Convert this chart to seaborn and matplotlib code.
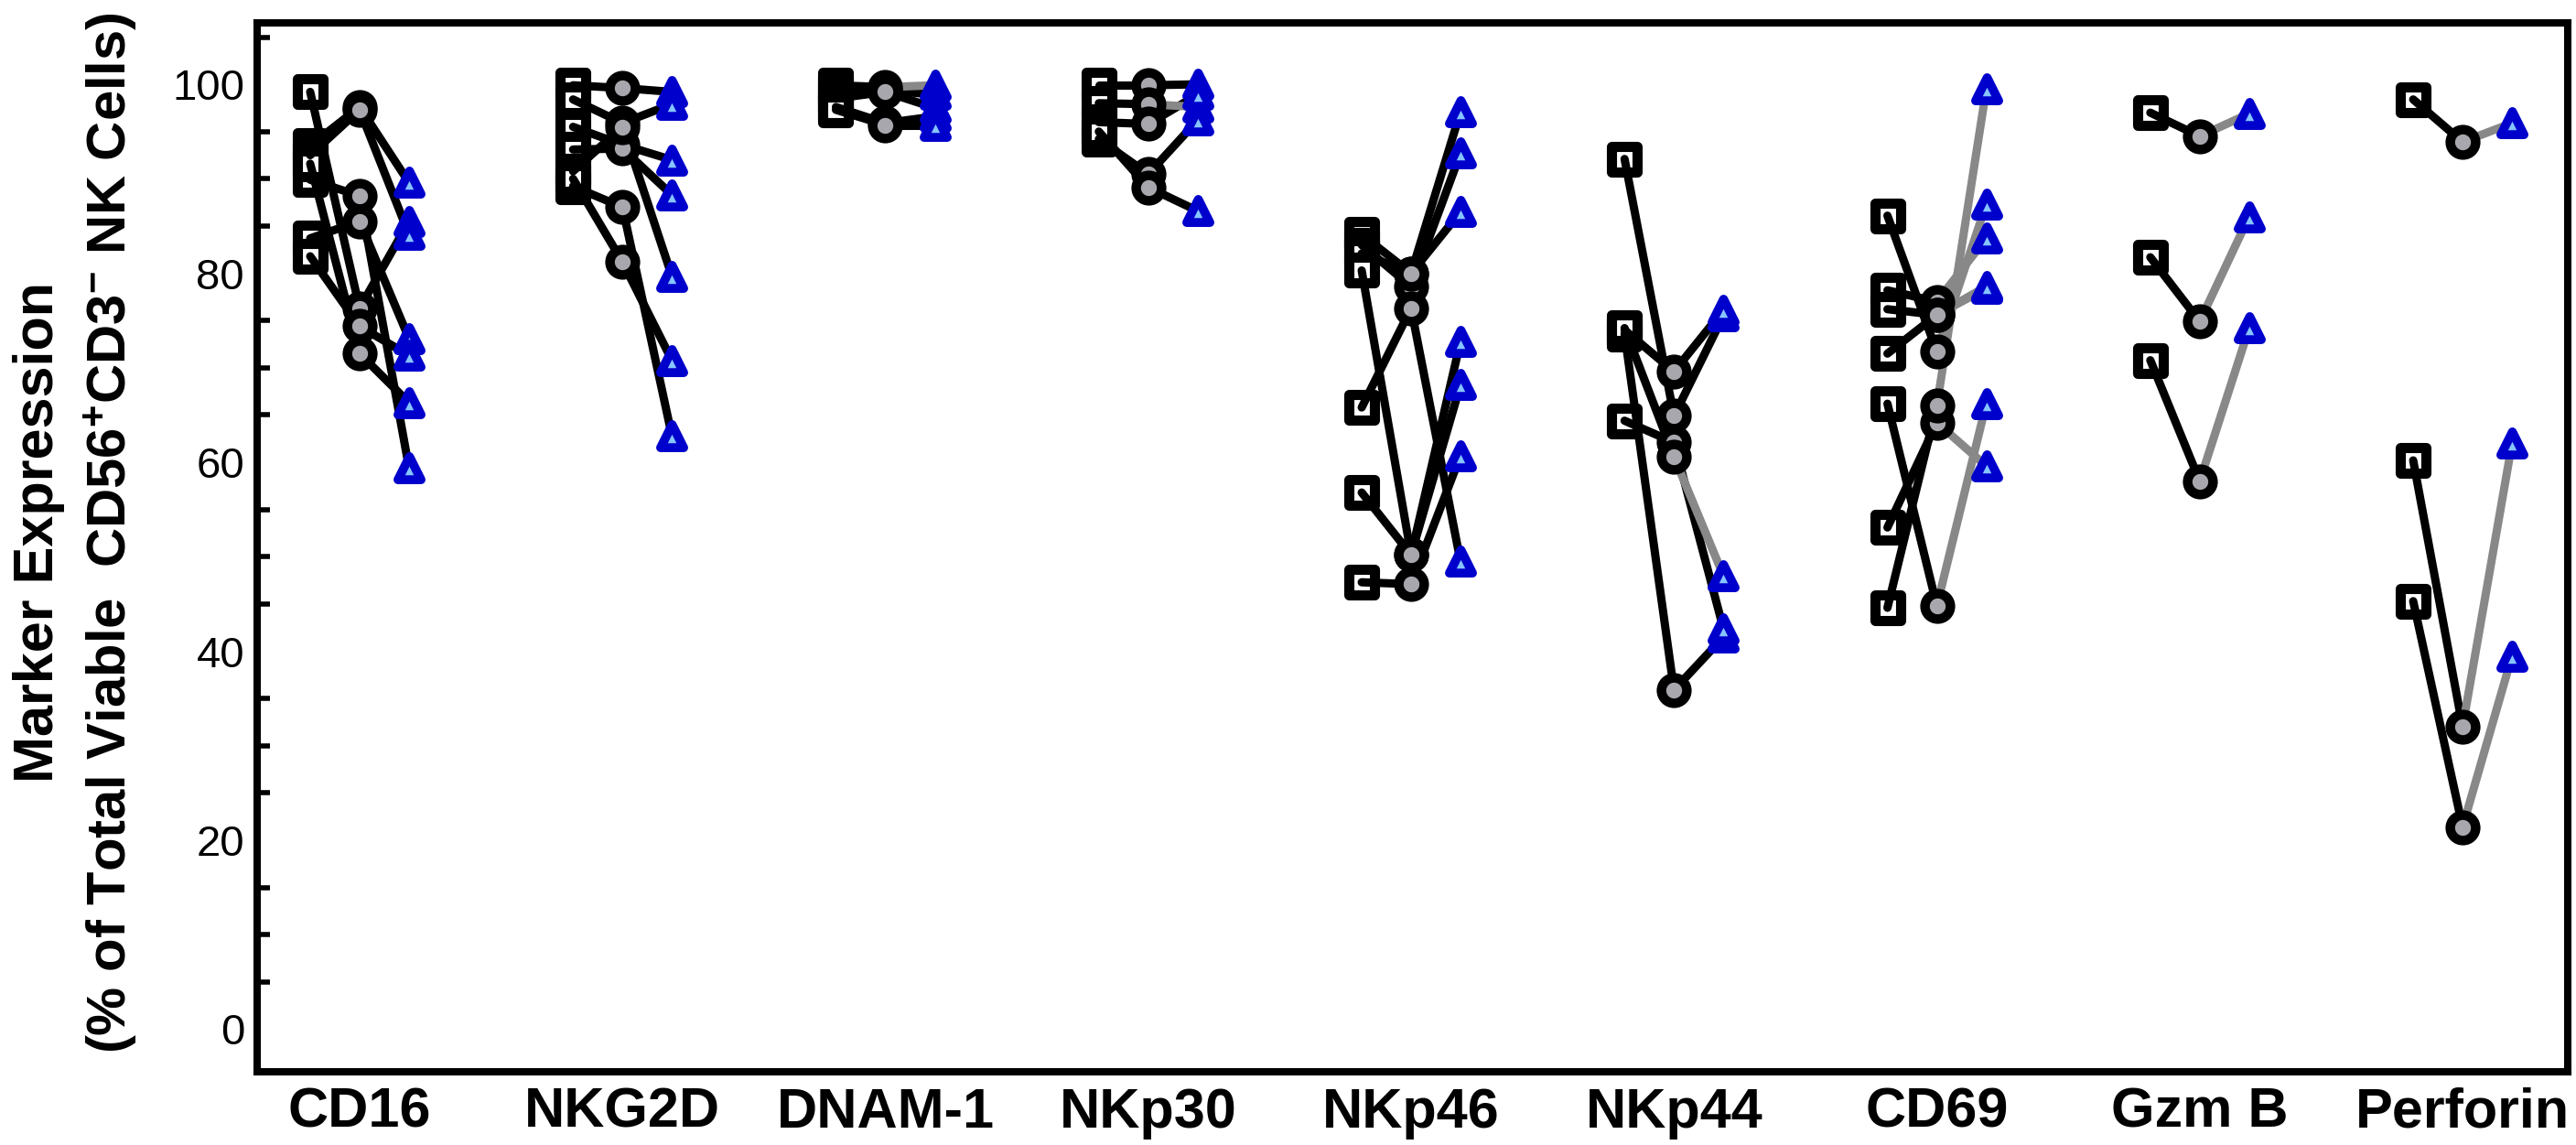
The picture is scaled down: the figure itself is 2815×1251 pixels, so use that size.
import numpy as np
import pandas as pd
import matplotlib
matplotlib.use("Agg")
import matplotlib.pyplot as plt
import seaborn as sns
from matplotlib.ticker import MultipleLocator

# marker panels along the x axis
groups = ["CD16", "NKG2D", "DNAM-1", "NKp30", "NKp46", "NKp44", "CD69", "Gzm B", "Perforin"]

# one row per donor: (square, circle, triangle) in % of NK cells
cd16 = [(99.2, 76.3, 85.5), (93.5, 97.6, 89.6), (92.5, 97.3, 84.1), (89.9, 88.2, 59.4),
        (83.7, 85.5, 73.1), (81.8, 74.4, 71.3), (91.6, 71.5, 66.3)]
nkg2d = [(99.9, 99.6, 99.2), (98.4, 95.9, 97.9), (95.5, 93.6, 92.0), (93.1, 93.2, 88.3),
         (90.8, 95.5, 79.7), (89.2, 87.0, 62.8), (90.0, 81.2, 70.8)]
dnam1 = [(99.9, 99.7, 99.9), (99.5, 99.4, 98.9), (98.5, 99.2, 97.5), (97.6, 95.9, 96.6),
         (97.3, 95.7, 95.7)]
nkp30 = [(99.9, 99.9, 100.0), (98.0, 97.9, 97.6), (96.0, 95.8, 98.9), (94.2, 90.5, 96.2),
         (95.0, 89.1, 86.6)]
nkp46 = [(84.1, 80.0, 97.1), (83.0, 78.6, 92.7), (82.1, 80.0, 86.5), (80.3, 50.2, 72.8),
         (65.8, 76.3, 49.5), (56.8, 50.2, 68.2), (47.3, 47.1, 60.7)]
nkp44 = [(92.1, 64.9, 75.5), (74.0, 69.6, 76.1), (73.6, 35.9, 41.5), (64.4, 62.1, 42.4),
         (74.2, 60.6, 48.0)]
cd69 = [(86.1, 71.7, 87.3), (78.2, 77.0, 83.7), (76.2, 75.6, 78.4), (71.5, 75.6, 78.6),
        (66.2, 44.8, 66.2), (53.1, 64.2, 59.6), (44.6, 66.0, 99.5)]
gzmb = [(97.0, 94.5, 96.9), (81.7, 74.9, 86.0), (70.8, 58.0, 74.2)]
perforin = [(98.4, 93.9, 95.9), (60.2, 32.0, 62.0), (45.3, 21.4, 39.5)]

# donors whose circle -> triangle link is drawn grey
grey_legs = {"DNAM-1": [0], "NKp30": [1], "NKp44": [4],
             "CD69": [0, 1, 2, 3, 4, 5, 6], "Gzm B": [0, 1, 2], "Perforin": [0, 1, 2]}

panel_data = [cd16, nkg2d, dnam1, nkp30, nkp46, nkp44, cd69, gzmb, perforin]

# long table
rows = []
offsets = [-0.188, 0.0, 0.188]
for gi, (name, donors) in enumerate(zip(groups, panel_data)):
    for di, vals in enumerate(donors):
        for st, v in enumerate(vals):
            rows.append({"group": name, "donor": di, "stage": st,
                         "x": gi + offsets[st], "value": v})
df = pd.DataFrame(rows)
df["uid"] = df["group"] + "_" + df["donor"].astype(str)

seg1 = df[df["stage"] < 2].copy()
seg2 = df[df["stage"] > 0].copy()
seg2["tone"] = [("g" if d in grey_legs.get(g, []) else "k")
                for g, d in zip(seg2["group"], seg2["donor"])]

sns.set_style("white")
plt.rcParams["font.family"] = ["Liberation Sans", "DejaVu Sans"]
plt.rcParams["mathtext.fontset"] = "custom"
plt.rcParams["mathtext.bf"] = "Liberation Sans:bold"
plt.rcParams["mathtext.rm"] = "Liberation Sans:bold"
plt.rcParams["mathtext.default"] = "bf"
for k in ["text.color", "axes.labelcolor", "xtick.color", "ytick.color"]:
    plt.rcParams[k] = "black"

fig = plt.figure(figsize=(28.15, 12.51), dpi=100)
ax = fig.add_axes([0.0998, 0.064, 0.897, 0.916])

lw = 6.5
# squares first, lines drawn over them
sns.scatterplot(data=df[df["stage"] == 0], x="x", y="value", marker="s", s=380,
                color="white", edgecolor="black", linewidth=8, zorder=2, ax=ax, legend=False)
sns.lineplot(data=seg1, x="x", y="value", units="uid", estimator=None, color="black",
             lw=lw, zorder=3, ax=ax, legend=False)
sns.lineplot(data=seg2, x="x", y="value", units="uid", estimator=None, hue="tone",
             palette={"k": "black", "g": "#888888"}, lw=lw, zorder=3, ax=ax, legend=False)
sns.scatterplot(data=df[df["stage"] == 1], x="x", y="value", marker="o", s=400,
                color="#a7a7ad", edgecolor="black", linewidth=7.5, zorder=4, ax=ax, legend=False)
sns.scatterplot(data=df[df["stage"] == 2], x="x", y="value", marker="^", s=330,
                color="#86c4ff", edgecolor="#0000cc", linewidth=7, joinstyle="round",
                zorder=5, ax=ax, legend=False)

ax.set_xlim(-0.39, 8.40)
ax.set_ylim(-4.5, 106.5)
ax.set_xticks(range(len(groups)))
ax.set_xticklabels(groups, fontsize=44, fontweight="bold")
ax.yaxis.set_major_locator(MultipleLocator(20))
ax.yaxis.set_minor_locator(MultipleLocator(5))
ax.tick_params(axis="y", which="major", direction="in", length=20, width=5,
               labelsize=34, pad=10)
ax.tick_params(axis="y", which="minor", direction="in", length=10, width=4, left=True)
ax.tick_params(axis="x", which="major", direction="in", length=19, width=4.5, pad=12)
ax.tick_params(axis="x", which="minor", bottom=False)
ax.set_xlabel("")
ax.set_ylabel("")
for sp in ax.spines.values():
    sp.set_visible(True)
    sp.set_linewidth(5.8)
    sp.set_color("black")

fig.text(0.0150, 0.535, "Marker Expression", rotation=90, ha="center", va="center",
         fontsize=44, fontweight="bold")
fig.text(0.0433, 0.535, r"(% of Total Viable  CD56$^{+}$CD3$^{-}$ NK Cells)",
         rotation=90, ha="center", va="center", fontsize=43, fontweight="bold")

fig.savefig("out.png", dpi=100)
